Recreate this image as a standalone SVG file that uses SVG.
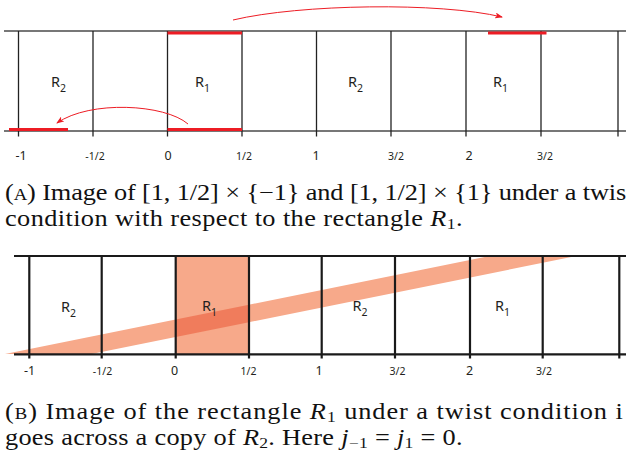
<svg xmlns="http://www.w3.org/2000/svg" width="626" height="455" viewBox="0 0 626 455">
<style>
.hA{stroke:#4a4a4a;stroke-width:1.5;fill:none}
.vA{stroke:#222;stroke-width:1.3;fill:none}
.red{stroke:#ed1c24;stroke-width:3;fill:none}
.arr{stroke:#ed1c24;stroke-width:1;fill:none;marker-end:url(#ah)}
.hB{stroke:#1a1a1a;stroke-width:2.2;fill:none}
.lbl{font-family:"Noto Sans","Open Sans",sans-serif;font-size:14.5px;fill:#231f20}
.sub{font-size:10.5px}
.tk{font-family:"Noto Sans","Open Sans",sans-serif;font-size:12.5px;fill:#231f20;text-anchor:middle}
.fr{font-size:10.5px}
.cap{font-family:"Liberation Serif","Times New Roman",serif;font-size:22.5px;fill:#111}
.it{font-style:italic}
.sc{font-size:16px}
.cs{font-size:15px}
</style>
<defs>
<marker id="ah" markerWidth="8" markerHeight="6" refX="7" refY="3" orient="auto" markerUnits="userSpaceOnUse">
<path d="M0,0 L8,3 L0,6 L2,3 Z" fill="#ed1c24"/>
</marker>
</defs>

<g id="panelA">
<g id="gridA">
<line class="hA" x1="4" y1="31" x2="626" y2="31"/>
<line class="hA" x1="4" y1="131" x2="626" y2="131"/>
<line class="vA" x1="18.5" y1="31" x2="18.5" y2="136.5"/>
<line class="vA" x1="93" y1="31" x2="93" y2="136.5"/>
<line class="vA" x1="167.5" y1="31" x2="167.5" y2="136.5"/>
<line class="vA" x1="242" y1="31" x2="242" y2="136.5"/>
<line class="vA" x1="316.5" y1="31" x2="316.5" y2="136.5"/>
<line class="vA" x1="391" y1="31" x2="391" y2="136.5"/>
<line class="vA" x1="466" y1="31" x2="466" y2="136.5"/>
<line class="vA" x1="541" y1="31" x2="541" y2="136.5"/>
<line class="vA" x1="618" y1="31" x2="618" y2="136.5"/>
</g>
<g id="redSegments">
<line class="red" x1="167.5" y1="33" x2="242" y2="33"/>
<line class="red" x1="488" y1="33" x2="546.5" y2="33"/>
<line class="red" x1="9" y1="129.5" x2="68" y2="129.5"/>
<line class="red" x1="167.5" y1="129.5" x2="242" y2="129.5"/>
</g>
<g id="connectorsA">
<path class="arr" d="M233,20 C300,4 440,2 502,17"/>
<path class="arr" d="M188,124 C165,104 90,100 57,123"/>
</g>
<g id="A_R2a"><text class="lbl" x="51" y="87">R<tspan class="sub" dy="5">2</tspan></text></g>
<g id="A_R1a"><text class="lbl" x="195" y="87">R<tspan class="sub" dy="5">1</tspan></text></g>
<g id="A_R2b"><text class="lbl" x="348" y="87">R<tspan class="sub" dy="5">2</tspan></text></g>
<g id="A_R1b"><text class="lbl" x="493" y="87">R<tspan class="sub" dy="5">1</tspan></text></g>
<g id="ticksA">
<text class="tk" x="21" y="160">-1</text>
<text class="tk fr" x="95" y="160">-1/2</text>
<text class="tk" x="168" y="160">0</text>
<text class="tk fr" x="244" y="160">1/2</text>
<text class="tk" x="316" y="160">1</text>
<text class="tk fr" x="396" y="160">3/2</text>
<text class="tk" x="469" y="160">2</text>
<text class="tk fr" x="545" y="160">3/2</text>
</g>
</g>

<g id="captionA" transform="translate(5,0) scale(1.17,1)">
<text class="cap" x="0" y="200.5" textLength="531" lengthAdjust="spacing">(<tspan class="sc">A</tspan>) Image of [1, 1/2] × {−1} and [1, 1/2] × {1} under a twis</text>
<text class="cap" x="0" y="226.5" textLength="391" lengthAdjust="spacing">condition with respect to the rectangle <tspan class="it">R</tspan><tspan class="cs" dy="3">1</tspan><tspan dy="-3">.</tspan></text>
</g>

<g id="panelB">
<g id="fills">
<rect x="175.7" y="257" width="73.3" height="97" fill="#f7a98a"/>
<polygon points="5,354 91.5,354 571.3,257 484.7,257" fill="#f7a98a"/>
<polygon points="175.7,319.5 249,304.7 249,322.2 175.7,337" fill="#f07c5c"/>
</g>
<g id="gridB">
<line class="hB" x1="14" y1="256" x2="626" y2="256"/>
<line class="hB" x1="14" y1="354.3" x2="626" y2="354.3"/>
<line class="hB" x1="29.3" y1="256" x2="29.3" y2="358.5"/>
<line class="hB" x1="101.7" y1="256" x2="101.7" y2="358.5"/>
<line class="hB" x1="175.7" y1="256" x2="175.7" y2="358.5"/>
<line class="hB" x1="249" y1="256" x2="249" y2="358.5"/>
<line class="hB" x1="321.7" y1="256" x2="321.7" y2="358.5"/>
<line class="hB" x1="395" y1="256" x2="395" y2="358.5"/>
<line class="hB" x1="470" y1="256" x2="470" y2="358.5"/>
<line class="hB" x1="542.7" y1="256" x2="542.7" y2="358.5"/>
<line class="hB" x1="619.3" y1="256" x2="619.3" y2="358.5"/>
</g>
<g id="B_R2a"><text class="lbl" x="61" y="311.5">R<tspan class="sub" dy="5">2</tspan></text></g>
<g id="B_R1a"><text class="lbl" x="202" y="310.5">R<tspan class="sub" dy="5">1</tspan></text></g>
<g id="B_R2b"><text class="lbl" x="352.5" y="311">R<tspan class="sub" dy="5">2</tspan></text></g>
<g id="B_R1b"><text class="lbl" x="495" y="311">R<tspan class="sub" dy="5">1</tspan></text></g>
<g id="ticksB">
<text class="tk" x="29.5" y="375">-1</text>
<text class="tk fr" x="102.5" y="375">-1/2</text>
<text class="tk" x="174.5" y="375">0</text>
<text class="tk fr" x="248.5" y="375">1/2</text>
<text class="tk" x="319" y="375">1</text>
<text class="tk fr" x="397.5" y="375">3/2</text>
<text class="tk" x="469.5" y="375">2</text>
<text class="tk fr" x="544" y="375">3/2</text>
</g>
</g>

<g id="captionB" transform="translate(5,0) scale(1.17,1)">
<text class="cap" x="0" y="419.5" textLength="528" lengthAdjust="spacing">(<tspan class="sc">B</tspan>) Image of the rectangle <tspan class="it">R</tspan><tspan class="cs" dy="3">1</tspan><tspan dy="-3"> under a twist condition i</tspan></text>
<text class="cap" x="0" y="445" textLength="391" lengthAdjust="spacing">goes across a copy of <tspan class="it">R</tspan><tspan class="cs" dy="3">2</tspan><tspan dy="-3">. Here </tspan><tspan class="it">j</tspan><tspan class="cs" dy="3">−1</tspan><tspan dy="-3"> = </tspan><tspan class="it">j</tspan><tspan class="cs" dy="3">1</tspan><tspan dy="-3"> = 0.</tspan></text>
</g>
</svg>
